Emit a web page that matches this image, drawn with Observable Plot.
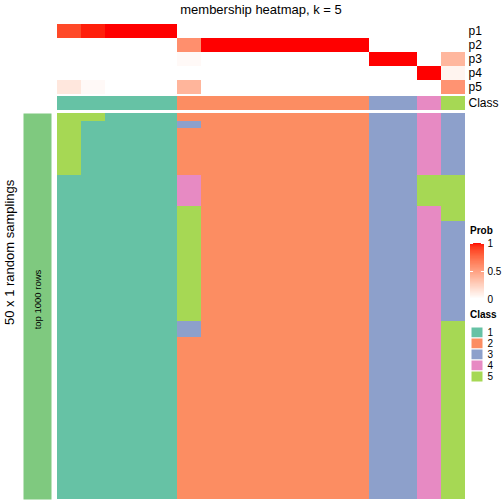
<!DOCTYPE html>
<html><head><meta charset="utf-8">
<script src="https://cdn.jsdelivr.net/npm/d3@7"></script>
<script src="https://cdn.jsdelivr.net/npm/@observablehq/plot@0.6"></script>
<style>
body{margin:0;background:white;}
#root{position:relative;width:504px;height:504px;font-family:"Liberation Sans",Arial,Helvetica,sans-serif;overflow:hidden;background:white;}
#root svg{position:absolute;background:transparent;overflow:visible;max-width:none;}
.lbl{position:absolute;white-space:nowrap;line-height:1;color:black;}
</style></head><body><div id="root"></div>
<script>
const title = "membership heatmap, k = 5";
const yLabel = "50 x 1 random samplings";
const leftBarLabel = "top 1000 rows";
const probRows = ["p1","p2","p3","p4","p5"];
const classRowLabel = "Class";
const classLevels = [1,2,3,4,5];
const classColors = ["#66C2A5","#FC8D62","#8DA0CB","#E78AC3","#A6D854"];
const leftBarColor = "#7FC97F";
const sampleClass = [1,1,1,1,1,2,2,2,2,2,2,2,2,3,3,4,5];
const p1 = [0.87,0.97,1,1,1,0,0,0,0,0,0,0,0,0,0,0,0];
const p2 = [0,0,0,0,0,0.58,1,1,1,1,1,1,1,0,0,0,0];
const p3 = [0,0,0,0,0,0.03,0,0,0,0,0,0,0,1,1,0,0.38];
const p4 = [0,0,0,0,0,0,0,0,0,0,0,0,0,0,0,1,0.06];
const p5 = [0.13,0.03,0,0,0,0.39,0,0,0,0,0,0,0,0,0,0,0.56];
const probTicks = [0,0.5,1];
const probTickLabels = ["0","0.5","1"];
// class per random sampling (50 rows) for each sample column, as runs [class, rows]
const col0  = [[5,8],[1,42]];
const col1  = [[5,1],[1,49]];
const col2  = [[1,50]];
const col3  = [[1,50]];
const col4  = [[1,50]];
const col5  = [[2,1],[3,1],[2,6],[4,4],[5,15],[3,2],[2,21]];
const col6  = [[2,50]];
const col7  = [[2,50]];
const col8  = [[2,50]];
const col9  = [[2,50]];
const col10 = [[2,50]];
const col11 = [[2,50]];
const col12 = [[2,50]];
const col13 = [[3,50]];
const col14 = [[3,50]];
const col15 = [[4,8],[5,4],[4,38]];
const col16 = [[3,8],[5,6],[3,13],[5,23]];

const columns = [col0,col1,col2,col3,col4,col5,col6,col7,col8,col9,col10,col11,col12,col13,col14,col15,col16];
const nCol = sampleClass.length;
const nRow = 50;
const FONT = "Liberation Sans, Arial, Helvetica, sans-serif";
const root = document.getElementById("root");

function place(el, left, top) {
  el.style.left = left + "px";
  el.style.top = top + "px";
  root.appendChild(el);
}
function label(text, left, top, size, extra) {
  const d = document.createElement("div");
  d.className = "lbl";
  d.textContent = text;
  d.style.fontSize = size + "px";
  if (extra) Object.assign(d.style, extra);
  place(d, left, top);
  return d;
}

const xBand = {type:"band", domain:d3.range(nCol), padding:0, axis:null};
const L = 57, R = 39;

// probability rows
const probData = [];
[p1,p2,p3,p4,p5].forEach((arr, i) => arr.forEach((v, c) => probData.push({col:c, row:probRows[i], value:v})));
const probPlot = Plot.plot({
  width:504, height:70, marginLeft:L, marginRight:R, marginTop:0, marginBottom:0,
  style:{fontFamily:FONT, background:"transparent"},
  x:xBand,
  y:{type:"band", domain:probRows, padding:0},
  color:{type:"linear", domain:[0,1], range:["white","red"], interpolate:"lab"},
  marks:[
    Plot.cell(probData, {x:"col", y:"row", fill:"value", shapeRendering:"crispEdges"}),
    Plot.axisY({anchor:"right", tickSize:0, tickPadding:3, fontSize:12, label:null})
  ]
});
place(probPlot, 0, 24);

// class row
const classData = sampleClass.map((k, c) => ({col:c, row:classRowLabel, cls:k}));
const classPlot = Plot.plot({
  width:504, height:14, marginLeft:L, marginRight:R, marginTop:0, marginBottom:0,
  style:{fontFamily:FONT, background:"transparent"},
  x:xBand,
  y:{type:"band", domain:[classRowLabel], padding:0},
  color:{type:"ordinal", domain:classLevels, range:classColors},
  marks:[
    Plot.cell(classData, {x:"col", y:"row", fill:"cls", shapeRendering:"crispEdges"}),
    Plot.axisY({anchor:"right", tickSize:0, tickPadding:3, fontSize:12, label:null})
  ]
});
place(classPlot, 0, 96);

// main membership heatmap
const mainData = [];
columns.forEach((runs, c) => {
  let r = 0;
  runs.forEach(([k, n]) => { for (let j = 0; j < n; j++) mainData.push({col:c, row:r++, cls:k}); });
});
const mainPlot = Plot.plot({
  width:504, height:386, marginLeft:L, marginRight:R, marginTop:0, marginBottom:0,
  style:{fontFamily:FONT, background:"transparent"},
  x:xBand,
  y:{type:"band", domain:d3.range(nRow), padding:0, axis:null},
  color:{type:"ordinal", domain:classLevels, range:classColors},
  marks:[
    Plot.cell(mainData, {x:"col", y:"row", fill:"cls", shapeRendering:"crispEdges"})
  ]
});
place(mainPlot, 0, 113);

// left annotation bar
const leftPlot = Plot.plot({
  width:28, height:386, margin:0,
  style:{fontFamily:FONT, background:"transparent"},
  x:{axis:null}, y:{axis:null},
  marks:[
    Plot.frame({fill:leftBarColor, stroke:null}),
    Plot.text([leftBarLabel], {frameAnchor:"middle", rotate:-90, fontSize:9.5, fill:"black", dy:-7})
  ]
});
place(leftPlot, 23, 113);

// titles
label(title, L, 3, 13, {width:(504-L-R)+"px", textAlign:"center"});
const yl = label(yLabel, 0, 0, 13, {transformOrigin:"0 0", transform:"rotate(-90deg)"});
yl.style.left = "3px";
yl.style.top = (252 + 73) + "px";

// Prob legend
label("Prob", 470, 226, 10, {fontWeight:"bold"});
const grad = d3.range(0, 1, 0.01);
const probLegend = Plot.plot({
  width:36, height:60, marginLeft:0, marginRight:22, marginTop:2, marginBottom:2,
  style:{fontFamily:FONT, background:"transparent"},
  x:{domain:[0,1], axis:null},
  y:{domain:[0,1]},
  color:{type:"linear", domain:[0,1], range:["white","red"], interpolate:"lab"},
  marks:[
    Plot.rect(grad, {x1:0, x2:1, y1:d => d, y2:d => d + 0.0101, fill:d => d, shapeRendering:"crispEdges"}),
    Plot.ruleY(probTicks, {x1:0, x2:0.22, stroke:"white"}),
    Plot.ruleY(probTicks, {x1:0.78, x2:1, stroke:"white"}),
    Plot.axisY(probTicks, {anchor:"right", tickSize:0, tickPadding:3, fontSize:10, label:null, tickFormat:(d, i) => probTickLabels[i]})
  ]
});
place(probLegend, 470, 241);

// Class legend
label("Class", 470, 310, 10, {fontWeight:"bold"});
const classLegend = Plot.plot({
  width:34, height:55, marginLeft:0, marginRight:22, marginTop:0, marginBottom:0,
  style:{fontFamily:FONT, background:"transparent"},
  x:{axis:null},
  y:{type:"band", domain:classLevels, padding:0},
  color:{type:"ordinal", domain:classLevels, range:classColors},
  marks:[
    Plot.cell(classLevels, {y:d => d, fill:d => d, stroke:"white", strokeWidth:1}),
    Plot.axisY({anchor:"right", tickSize:0, tickPadding:4, fontSize:10, label:null})
  ]
});
place(classLegend, 471, 327);
</script></body></html>
